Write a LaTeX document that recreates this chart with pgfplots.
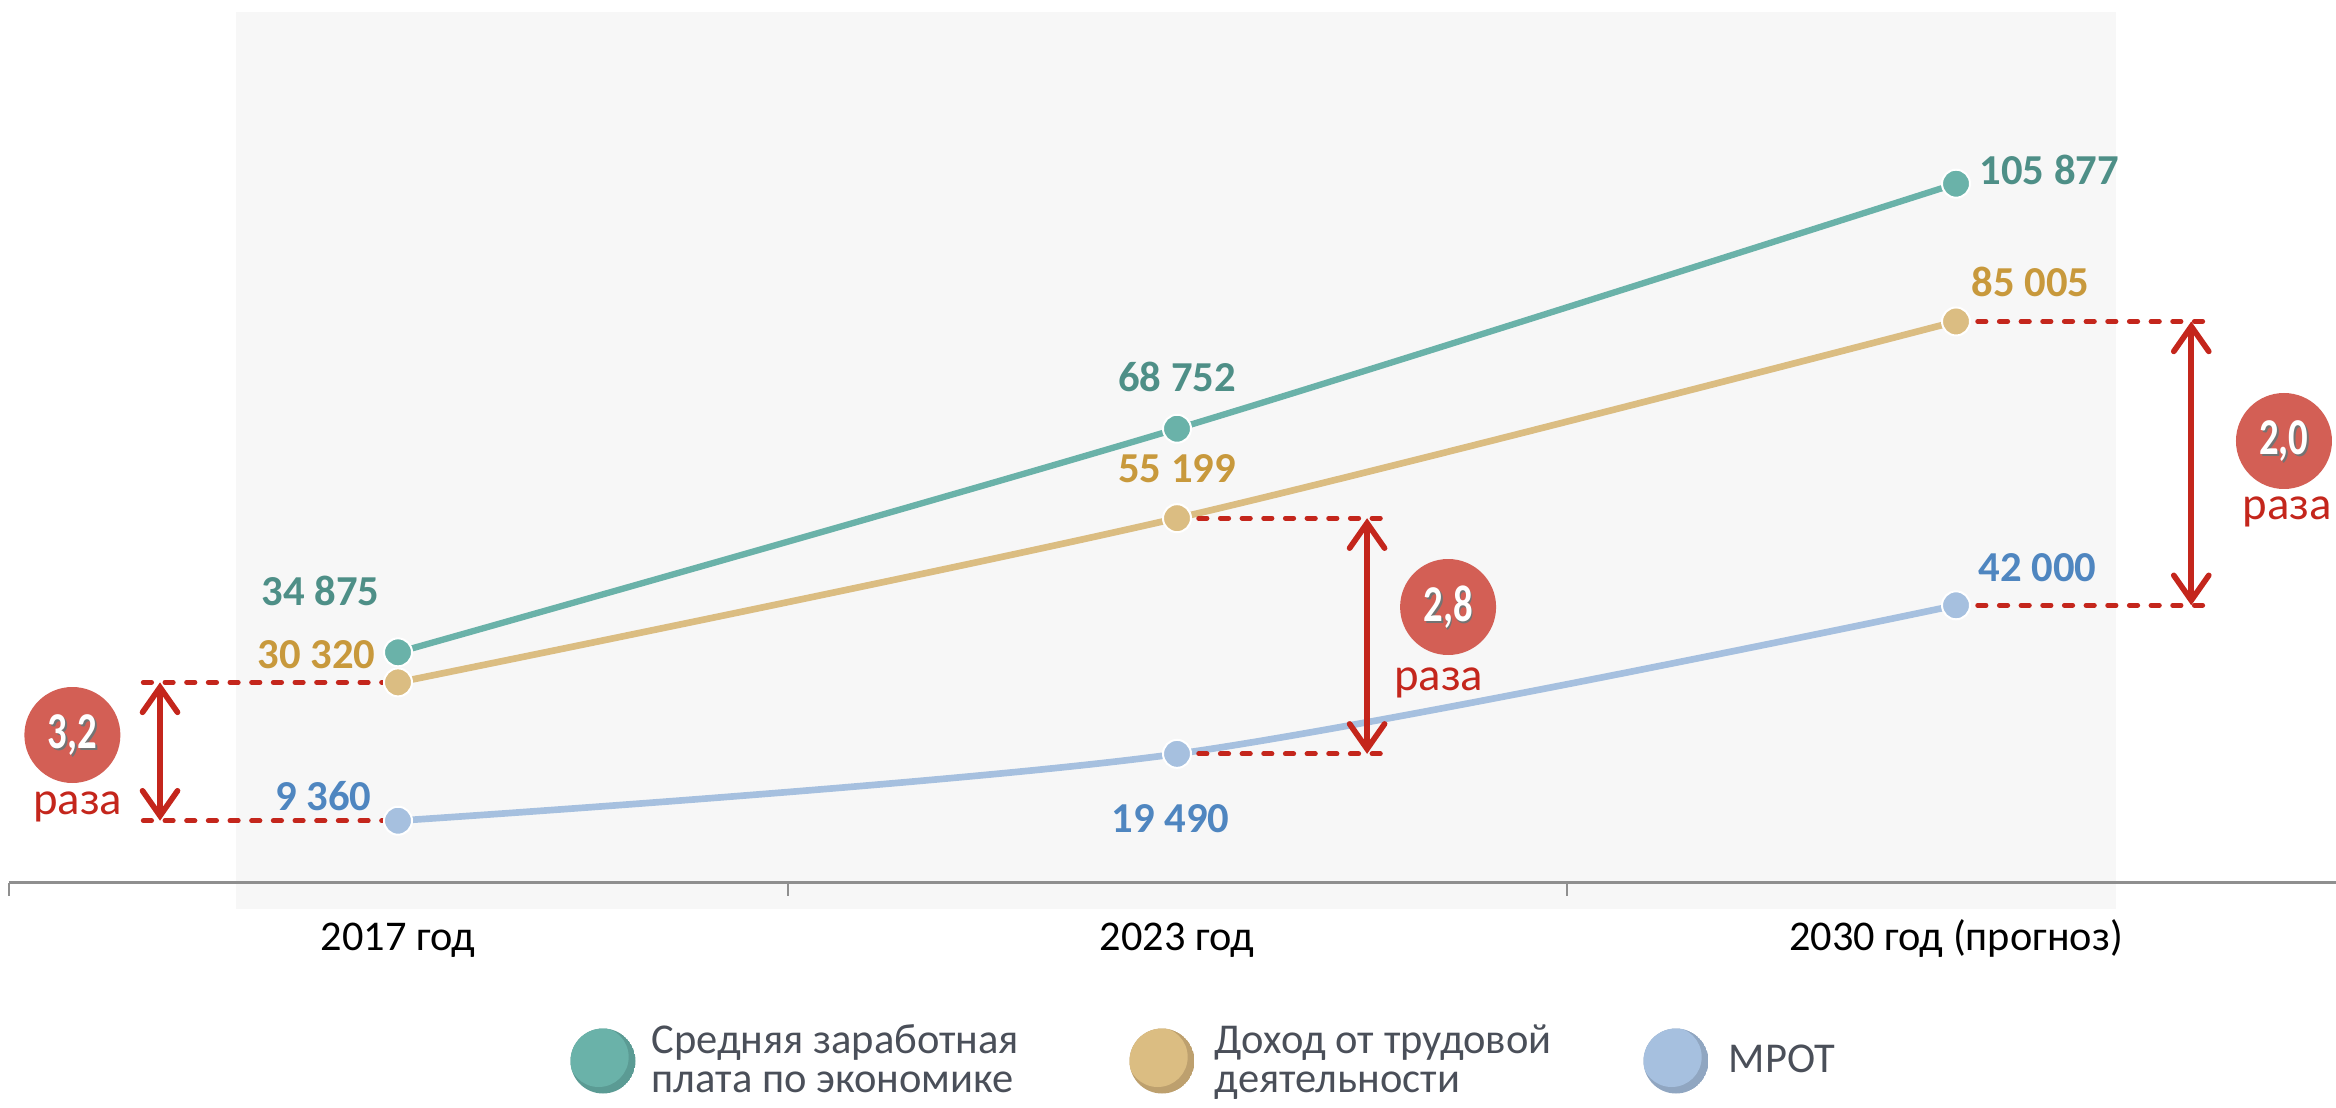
\documentclass[border=0pt]{standalone}
\usepackage{fontspec}
\setmainfont{Carlito}
\usepackage{graphicx}
\usepackage{pgfplots}
\pgfplotsset{compat=1.18}
\usepackage{pgfplotstable}
\usetikzlibrary{arrows.meta}

\definecolor{tealc}{HTML}{6AB2A9}
\definecolor{tealdark}{HTML}{5B9B94}
\definecolor{tealt}{HTML}{4E8F87}
\definecolor{goldc}{HTML}{DBBD82}
\definecolor{golddark}{HTML}{BDA06E}
\definecolor{goldt}{HTML}{C8993C}
\definecolor{bluec}{HTML}{A6C0DF}
\definecolor{bluedark}{HTML}{90A6C1}
\definecolor{bluet}{HTML}{4F86C0}
\definecolor{redc}{HTML}{C4261C}
\definecolor{badge}{HTML}{D35F55}
\definecolor{bggray}{HTML}{F7F7F7}
\definecolor{legtext}{HTML}{4A4F59}
\definecolor{axisgray}{HTML}{8F8F8F}

\pgfplotstableread{
x y
0 34875
1 68752
2 105877
}\wagetab
\pgfplotstableread{
x y
0 30320
1 55199
2 85005
}\incometab
\pgfplotstableread{
x y
0 9360
1 19490
2 42000
}\mrottab

\tikzset{
  lbl/.style={inner sep=0pt, font=\bfseries\fontsize{12.8}{15}\selectfont},
  rz/.style={inner sep=0pt, text=redc, font=\fontsize{14}{16}\selectfont},
  dsh/.style={redc, line width=1.45pt, dash pattern=on 2.5pt off 4pt, line cap=round},
  arr/.style={redc, line width=1.7pt, {Straight Barb[length=7.5pt,width=10.5pt,line cap=round]}-{Straight Barb[length=7.5pt,width=10.5pt,line cap=round]}},
  legf/.style={inner sep=0pt, anchor=base west, text=legtext, font=\fontsize{12.75}{14}\selectfont},
}
\newcommand{\badgetext}[2]{%
  \node[inner sep=0pt, text=black!55, font=\bfseries\fontsize{15.5}{17}\selectfont] at (#1) [xshift=0.5pt, yshift=-0.5pt] {\scalebox{0.75}[1]{#2}};
  \node[inner sep=0pt, text=white, font=\bfseries\fontsize{15.5}{17}\selectfont] at (#1) {\scalebox{0.75}[1]{#2}};
}

\begin{document}
\begin{tikzpicture}
\path[use as bounding box] (0,0) rectangle (700.8pt,332.1pt);
\fill[bggray] (70.8pt,59.4pt) rectangle (634.8pt,328.5pt);
\begin{axis}[
  at={(2.55pt,67.35pt)}, anchor=south west,
  scale only axis, width=701.1pt, height=264.75pt,
  xmin=-0.5, xmax=2.5, ymin=0, ymax=133712,
  clip=false,
  axis y line=none,
  axis x line*=bottom,
  axis line style={draw=axisgray, line width=0.8pt},
  xtick={-0.5,0.5,1.5,2.5},
  xticklabels={,,,},
  tick align=outside,
  major tick length=3.9pt,
  xtick style={draw=axisgray, line width=0.6pt},
  extra x ticks={0,1,2},
  extra x tick labels={2017 год, 2023 год, 2030 год (прогноз)},
  extra x tick style={major tick length=0pt, tick style={draw=none},
     tick label style={anchor=base, yshift=-20.25pt, inner sep=0pt,
        font=\fontsize{12.7}{14}\selectfont, text=black}},
]
\addplot[tealc, line width=1.9pt, smooth, mark=*, mark size=4.2pt,
  mark options={fill=tealc, draw=white, line width=0.6pt, solid}] table[x=x,y=y] {\wagetab};
\addplot[goldc, line width=2pt, smooth, mark=*, mark size=4.2pt,
  mark options={fill=goldc, draw=white, line width=0.6pt, solid}] table[x=x,y=y] {\incometab};
\addplot[bluec, line width=2pt, smooth, mark=*, mark size=4.2pt,
  mark options={fill=bluec, draw=white, line width=0.6pt, solid}] table[x=x,y=y] {\mrottab};

% data labels
\node[lbl, text=tealt, anchor=east, xshift=-5.4pt, yshift=18.3pt] at (axis cs:0,34875) {34 875};
\node[lbl, text=goldt, anchor=east, xshift=-6.6pt, yshift=8.25pt] at (axis cs:0,30320) {30 320};
\node[lbl, text=bluet, anchor=east, xshift=-7.8pt, yshift=7.5pt] at (axis cs:0,9360) {9 360};
\node[lbl, text=tealt, yshift=15.6pt] at (axis cs:1,68752) {68 752};
\node[lbl, text=goldt, yshift=15pt] at (axis cs:1,55199) {55 199};
\node[lbl, text=bluet, xshift=-2pt, yshift=-19.5pt] at (axis cs:1,19490) {19 490};
\node[lbl, text=tealt, anchor=west, xshift=6.9pt, yshift=4pt] at (axis cs:2,105877) {105 877};
\node[lbl, text=goldt, anchor=west, xshift=4.5pt, yshift=11.9pt] at (axis cs:2,85005) {85 005};
\node[lbl, text=bluet, anchor=west, xshift=6.6pt, yshift=11.2pt] at (axis cs:2,42000) {42 000};

% ratio markers
\draw[dsh] (axis cs:-0.327,30320) -- (axis cs:0,30320);
\draw[dsh] (axis cs:-0.327,9360) -- (axis cs:0,9360);
\draw[arr] (axis cs:-0.3055,30320) -- (axis cs:-0.3055,9360);
\draw[dsh] (axis cs:1,55199) -- (axis cs:1.27,55199);
\draw[dsh] (axis cs:1,19490) -- (axis cs:1.27,19490);
\draw[arr] (axis cs:1.244,55199) -- (axis cs:1.244,19490);
\draw[dsh] (axis cs:2,85005) -- (axis cs:2.33,85005);
\draw[dsh] (axis cs:2,42000) -- (axis cs:2.33,42000);
\draw[arr] (axis cs:2.302,85005) -- (axis cs:2.302,42000);

\fill[badge] (axis cs:-0.418,22348) circle (14.4pt);
\badgetext{axis cs:-0.418,22348}{3,2}
\node[rz] at (axis cs:-0.411,11439) {раза};
\fill[badge] (axis cs:1.348,41742) circle (14.4pt);
\badgetext{axis cs:1.348,41742}{2,8}
\node[rz] at (axis cs:1.336,30227) {раза};
\fill[badge] (axis cs:2.421,66894) circle (14.4pt);
\badgetext{axis cs:2.421,66894}{2,0}
\node[rz] at (axis cs:2.425,56136) {раза};
\end{axis}

% legend
\foreach \cx/\cl/\cd in {180.9/tealc/tealdark, 348.6/goldc/golddark, 502.8/bluec/bluedark}{
  \begin{scope}
    \clip (\cx pt,13.8pt) circle (9.75pt);
    \fill[\cd] (\cx pt,13.8pt) circle (9.75pt);
    \fill[\cl] (\cx pt-1.3pt,15.0pt) circle (9pt);
  \end{scope}
}
\node[legf] at (195.3pt,16.2pt) {Средняя заработная};
\node[legf] at (195.3pt,4.5pt) {плата по экономике};
\node[legf] at (364.2pt,16.2pt) {Доход от трудовой};
\node[legf] at (364.2pt,4.5pt) {деятельности};
\node[legf] at (518.4pt,10.5pt) {МРОТ};
\end{tikzpicture}
\end{document}
